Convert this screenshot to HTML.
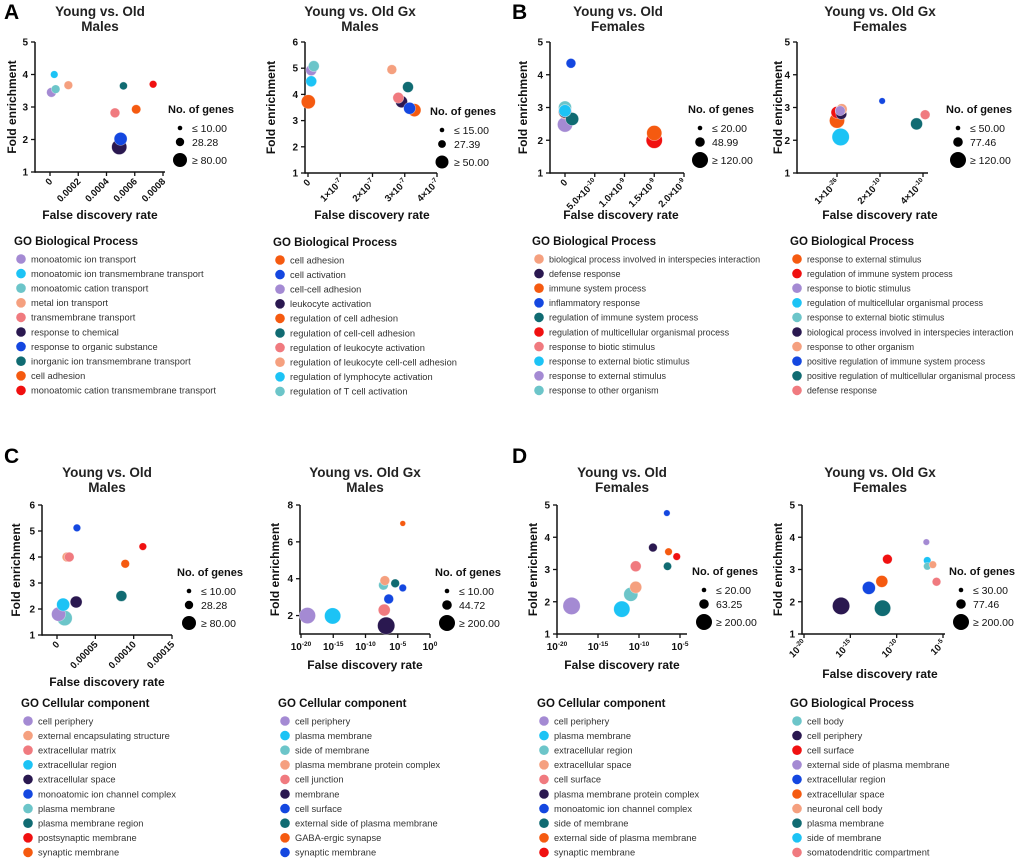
<!DOCTYPE html>
<html><head><meta charset="utf-8">
<style>
body{margin:0;background:#fff;}
svg{display:block;font-family:"Liberation Sans",Arial,sans-serif;}
.b{font-weight:bold;}
</style></head>
<body>
<svg id="fig" width="1020" height="866" viewBox="0 0 1020 866"></svg>
<script>
// ---- palette keys ----
const COL={pu:'#a48ad3',cy:'#1cc3f5',lt:'#6cc5c9',pe:'#f5a07f',pk:'#f07a7f',dk:'#2a1850',bl:'#1447e0',dt:'#106b72',or:'#f55a10',rd:'#f01010'};

// ---- Panel A1 data ----
const a1Fdr=[0.00001,0.00003,0.00004,0.00013,0.00046,0.00052,0.00073,0.00061,0.0005,0.00049];
const a1Fe=[3.45,4.0,3.55,3.67,2.82,3.65,3.7,2.93,2.02,1.77];
const a1Genes=[33,20,26,26,33,22,20,30,59,80];
const a1Cat=['pu','cy','lt','pe','pk','dt','rd','or','bl','dk'];
const a1Terms=['monoatomic ion transport','monoatomic ion transmembrane transport','monoatomic cation transport','metal ion transport','transmembrane transport','response to chemical','response to organic substance','inorganic ion transmembrane transport','cell adhesion','monoatomic cation transmembrane transport'];
const a1TermCol=['pu','cy','lt','pe','pk','dk','bl','dt','or','rd'];
const a1XTicks=[0,0.0002,0.0004,0.0006,0.0008];
const a1XLabels=['0','0.0002','0.0004','0.0006','0.0008'];
const a1Size=['≤  10.00','28.28','≥  80.00'];
// ---- Panel A2 ----
const a2Fdr=[0.01e-7,0.1e-7,0.1e-7,0.18e-7,2.6e-7,2.8e-7,2.9e-7,3.1e-7,3.15e-7,3.3e-7];
const a2Fe=[3.72,4.92,4.5,5.08,4.95,3.87,3.72,4.28,3.47,3.4];
const a2Genes=[50,30,30,30,24,30,36,30,36,43];
const a2Cat=['or','pu','cy','lt','pe','pk','dk','dt','bl','or'];
const a2Terms=['cell adhesion','cell activation','cell-cell adhesion','leukocyte activation','regulation of cell adhesion','regulation of cell-cell adhesion','regulation of leukocyte activation','regulation of leukocyte cell-cell adhesion','regulation of lymphocyte activation','regulation of T cell activation'];
const a2TermCol=['or','bl','pu','dk','or','dt','pk','pe','cy','lt'];
const a2XTicks=[0,1e-7,2e-7,3e-7,4e-7];
const a2XLabels=['0','1×10^-7','2×10^-7','3×10^-7','4×10^-7'];
const a2Size=['≤  15.00','27.39','≥  50.00'];
// ---- Panel B1 ----
const b1Fdr=[0,0,0,0,0,0,0.12e-9,0.1e-9,1.5e-9,1.5e-9];
const b1Fe=[2.9,2.9,3.0,2.85,2.88,2.48,2.65,4.35,2.22,2.0];
const b1Genes=[60,60,68,68,68,92,68,38,92,105];
const b1Cat=['pk','cy','lt','pe','dk','pu','dt','bl','or','rd'];
const b1Terms=['biological process involved in interspecies interaction','defense response','immune system process','inflammatory response','regulation of immune system process','regulation of multicellular organismal process','response to biotic stimulus','response to external biotic stimulus','response to external stimulus','response to other organism'];
const b1TermCol=['pe','dk','or','bl','dt','rd','pk','cy','pu','lt'];
const b1XTicks=[0,5e-10,1e-9,1.5e-9,2e-9];
const b1XLabels=['0','5.0×10^-10','1.0×10^-9','1.5×10^-9','2.0×10^-9'];
const b1Size=['≤  20.00','48.99','≥  120.00'];
// ---- Panel B2 ----
const b2Fdr=[0,0,0.17e-10,0.17e-10,0.2e-10,0.22e-10,2.1e-10,3.7e-10,4.1e-10,0.15e-10];
const b2Fe=[2.85,2.6,2.1,2.9,2.8,2.95,3.2,2.5,2.78,2.9];
const b2Genes=[57,92,120,47,47,47,17,57,38,40];
const b2Cat=['rd','or','cy','lt','dk','pe','bl','dt','pk','pu'];
const b2Terms=['response to external stimulus','regulation of immune system process','response to biotic stimulus','regulation of multicellular organismal process','response to external biotic stimulus','biological process involved in interspecies interaction','response to other organism','positive regulation of immune system process','positive regulation of multicellular organismal process','defense response'];
const b2TermCol=['or','rd','pu','cy','lt','dk','pe','bl','dt','pk'];
const b2XTicks=[0,2e-10,4e-10];
const b2XLabels=['1×10^-26','2×10^-10','4×10^-10'];
const b2Size=['≤  50.00','77.46','≥  120.00'];
// ---- Panel C1 ----
const c1Fdr=[0.000002,0.000008,0.00001,0.000013,0.000016,0.000025,0.000026,0.000084,0.000089,0.000112];
const c1Fe=[1.8,2.17,1.65,4.0,4.0,2.27,5.12,2.5,3.74,4.4];
const c1Genes=[69,59,80,33,33,49,20,41,26,20];
const c1Cat=['pu','cy','lt','pe','pk','dk','bl','dt','or','rd'];
const c1Terms=['cell periphery','external encapsulating structure','extracellular matrix','extracellular region','extracellular space','monoatomic ion channel complex','plasma membrane','plasma membrane region','postsynaptic membrane','synaptic membrane'];
const c1TermCol=['pu','pe','pk','cy','dk','bl','lt','dt','rd','or'];
const c1XTicks=[0,0.00005,0.0001,0.00015];
const c1XLabels=['0','0.00005','0.00010','0.00015'];
const c1Size=['≤  10.00','28.28','≥  80.00'];
// ---- Panel C2 (log x) ----
const c2Fdr=[1e-19,8e-16,6e-8,1e-7,4e-6,6e-5,4e-7,8e-8,1.6e-7,6e-5];
const c2Fe=[2.0,1.98,3.65,3.9,3.75,3.5,2.9,2.3,1.45,7.0];
const c2Genes=[176,176,63,63,50,38,63,95,200,22];
const c2Cat=['pu','cy','lt','pe','dt','bl','bl','pk','dk','or'];
const c2Terms=['cell periphery','plasma membrane','side of membrane','plasma membrane protein complex','cell junction','membrane','cell surface','external side of plasma membrane','GABA-ergic synapse','synaptic membrane'];
const c2TermCol=['pu','cy','lt','pe','pk','dk','bl','dt','or','bl'];
const c2XTicks=[1e-20,1e-15,1e-10,1e-5,1];
const c2XLabels=['10^-20','10^-15','10^-10','10^-5','10^0'];
const c2Size=['≤  10.00','44.72','≥  200.00'];
// ---- Panel D1 (log x) ----
const d1Fdr=[6e-19,8e-13,1e-11,4e-11,4e-11,5e-9,2.5e-7,4e-7,3e-7,4e-6];
const d1Fe=[1.87,1.77,2.23,2.45,3.1,3.68,4.75,3.55,3.1,3.4];
const d1Genes=[200,176,132,95,78,50,28,38,45,38];
const d1Cat=['pu','cy','lt','pe','pk','dk','bl','or','dt','rd'];
const d1Terms=['cell periphery','plasma membrane','extracellular region','extracellular space','cell surface','plasma membrane protein complex','monoatomic ion channel complex','side of membrane','external side of plasma membrane','synaptic membrane'];
const d1TermCol=['pu','cy','lt','pe','pk','dk','bl','dt','or','rd'];
const d1XTicks=[1e-20,1e-15,1e-10,1e-5];
const d1XLabels=['10^-20','10^-15','10^-10','10^-5'];
const d1Size=['≤  20.00','63.25','≥  200.00'];
// ---- Panel D2 (log x) ----
const d2Fdr=[1e-16,1e-13,3e-12,2.5e-12,1e-11,1.6e-7,2e-7,2e-7,8e-7,2e-6];
const d2Fe=[1.87,2.43,1.8,2.63,3.32,3.85,3.28,3.1,3.15,2.62];
const d2Genes=[200,113,176,95,63,28,38,38,38,50];
const d2Cat=['dk','bl','dt','or','rd','pu','cy','lt','pe','pk'];
const d2Terms=['cell body','cell periphery','cell surface','external side of plasma membrane','extracellular region','extracellular space','neuronal cell body','plasma membrane','side of membrane','somatodendritic compartment'];
const d2TermCol=['lt','dk','rd','pu','bl','or','pe','dt','cy','pk'];
const d2XTicks=[1e-20,1e-15,1e-10,1e-5];
const d2XLabels=['10^-20','10^-15','10^-10','10^-5'];
const d2Size=['≤  30.00','77.46','≥  200.00'];

const NS='http://www.w3.org/2000/svg';
const svg=document.getElementById('fig');
function mk(tag,attrs,parent){const e=document.createElementNS(NS,tag);for(const k in attrs)e.setAttribute(k,attrs[k]);(parent||svg).appendChild(e);return e;}
function txt(str,attrs,parent){
  const t=mk('text',attrs,parent);
  const parts=str.split('^');
  t.appendChild(document.createTextNode(parts[0]));
  if(parts[1]!==undefined){const s=mk('tspan',{dy:-4,'font-size':'6.5'},t);s.textContent=parts[1];}
  return t;
}

function panel(c){
  const g=mk('g',{});
  
  
  const fx=v=>{const t=c.log?Math.log10(v):v;return c.p1+(t-c.v1)*(c.p2-c.p1)/(c.v2-c.v1);};
  const fy=v=>c.yb-(v-c.ymin)*(c.yb-c.yt)/(c.ymax-c.ymin);
  const t1=txt(c.title[0],{x:c.tx,y:c.ty,'text-anchor':'middle','font-size':'13.5',class:'b',fill:'#222'},g);
  
  txt(c.title[1],{x:c.tx,y:c.ty+15,'text-anchor':'middle','font-size':'13.5',class:'b',fill:'#222'},g);
  const ax=mk('g',{},g);
  
  mk('line',{x1:c.ax,y1:c.yt,x2:c.ax,y2:c.yb+0.75,stroke:'#111','stroke-width':1.5},ax);
  mk('line',{x1:c.ax,y1:c.yb,x2:c.xe,y2:c.yb,stroke:'#111','stroke-width':1.5},ax);
  for(const yv of c.yticks){const y=fy(yv);
    mk('line',{x1:c.ax-4,y1:y,x2:c.ax,y2:y,stroke:'#111','stroke-width':1.3},ax);
    const t=txt(String(yv),{x:c.ax-7,y:y+3.5,'text-anchor':'end','font-size':'10',class:'b',fill:'#111'},ax);
    }
  c.xt.forEach((xv,i)=>{const x=fx(xv);
    mk('line',{x1:x,y1:c.yb,x2:x,y2:c.yb+4,stroke:'#111','stroke-width':1.3},ax);
    let t;
    if(c.rot) t=txt(c.xl[i],{x:x+3,y:c.yb+10,'text-anchor':'end','font-size':'9.5',class:'b',fill:'#111',transform:`rotate(-45 ${x+3} ${c.yb+10})`},ax);
    else t=txt(c.xl[i],{x:x,y:c.yb+16,'text-anchor':'middle','font-size':'10',class:'b',fill:'#111'},ax);
    
  });
  const yt=txt('Fold enrichment',{x:0,y:0,'text-anchor':'middle','font-size':'12',class:'b',fill:'#111',transform:`translate(${c.ytx},${(c.yt+c.yb)/2}) rotate(-90)`},g);
  
  const xt=txt('False discovery rate',{x:c.xtx,y:c.xty,'text-anchor':'middle','font-size':'12',class:'b',fill:'#111'},g);
  
  const rad=n=>1.08*c.rmax*Math.sqrt(Math.min(n,c.nmax)/c.nmax);
  const pts=c.fdr.map((v,i)=>i).sort((a,b)=>c.genes[b]-c.genes[a]);
  for(const i of pts){
    const p=mk('circle',{cx:fx(c.fdr[i]),cy:fy(c.fe[i]),r:rad(c.genes[i]),fill:COL[c.cat[i]],stroke:'rgba(255,255,255,0.5)','stroke-width':0.6},g);
    
    
  }
  const sl=mk('g',{},g);
  
  txt('No. of genes',{x:c.lx,y:c.ly+4,'font-size':'11',class:'b',fill:'#111'},sl);
  const sr=[2.3,c.rmax*0.6,c.rmax];
  const sy=[c.ly+19,c.ly+33,c.ly+51];
  for(let k=0;k<3;k++){
    mk('circle',{cx:c.lx+12,cy:sy[k],r:sr[k],fill:'#000'},sl);
    txt(c.size[k],{x:c.lx+24,y:sy[k]+4,'font-size':'10.5',fill:'#111'},sl);
  }
  const tl=mk('g',{},g);
  
  txt(c.head,{x:c.gx,y:c.gy+4,'font-size':'11.5',class:'b',fill:'#111'},tl);
  c.terms.forEach((s,i)=>{
    const y=c.gy+18+i*14.6;
    mk('circle',{cx:c.gx+7,cy:y,r:4.8,fill:COL[c.tcol[i]]},tl);
    const t=txt(s,{x:c.gx+17,y:y+3.3,'font-size':c.tfs||'9.3',fill:'#333'},tl);
    
  });
}

[['A',4,19],['B',512,19],['C',4,463],['D',512,463]].forEach(([l,x,y])=>{
  const t=txt(l,{x:x,y:y,'font-size':'21',class:'b',fill:'#000'});
  
});

const BP='GO Biological Process',CC='GO Cellular component';
panel({name:'panel-a-males',fdr:a1Fdr,fe:a1Fe,genes:a1Genes,cat:a1Cat,terms:a1Terms,tcol:a1TermCol,xt:a1XTicks,xl:a1XLabels,size:a1Size,
 v1:0,p1:50,v2:0.0008,p2:163,ax:35,xe:165,yt:42,yb:172,ymin:1,ymax:5,yticks:[1,2,3,4,5],rot:true,
 title:['Young vs. Old','Males'],tx:100,ty:16,ytx:16,xtx:100,xty:219,lx:168,ly:109,rmax:7,nmax:80,head:BP,gx:14,gy:241});
panel({name:'panel-a-males-gx',fdr:a2Fdr,fe:a2Fe,genes:a2Genes,cat:a2Cat,terms:a2Terms,tcol:a2TermCol,xt:a2XTicks,xl:a2XLabels,size:a2Size,
 v1:0,p1:308,v2:4e-7,p2:437,ax:305,xe:437,yt:42,yb:173,ymin:1,ymax:6,yticks:[1,2,3,4,5,6],rot:true,
 title:['Young vs. Old Gx','Males'],tx:360,ty:16,ytx:275,xtx:372,xty:219,lx:430,ly:111,rmax:6.5,nmax:50,head:BP,gx:273,gy:242});
panel({name:'panel-b-females',fdr:b1Fdr,fe:b1Fe,genes:b1Genes,cat:b1Cat,terms:b1Terms,tcol:b1TermCol,xt:b1XTicks,xl:b1XLabels,size:b1Size,
 v1:0,p1:565,v2:2e-9,p2:684,ax:550,xe:684,yt:42,yb:173,ymin:1,ymax:5,yticks:[1,2,3,4,5],rot:true,
 title:['Young vs. Old','Females'],tx:618,ty:16,ytx:527,xtx:621,xty:219,lx:688,ly:109,rmax:8,nmax:120,head:BP,gx:532,gy:241,tfs:'9'});
panel({name:'panel-b-females-gx',fdr:b2Fdr,fe:b2Fe,genes:b2Genes,cat:b2Cat,terms:b2Terms,tcol:b2TermCol,xt:b2XTicks,xl:b2XLabels,size:b2Size,
 v1:0,p1:837,v2:4e-10,p2:923,ax:797,xe:928,yt:42,yb:173,ymin:1,ymax:5,yticks:[1,2,3,4,5],rot:true,
 title:['Young vs. Old Gx','Females'],tx:880,ty:16,ytx:782,xtx:880,xty:219,lx:946,ly:109,rmax:8,nmax:120,head:BP,gx:790,gy:241,tfs:'8.8'});
panel({name:'panel-c-males',fdr:c1Fdr,fe:c1Fe,genes:c1Genes,cat:c1Cat,terms:c1Terms,tcol:c1TermCol,xt:c1XTicks,xl:c1XLabels,size:c1Size,
 v1:0,p1:57,v2:0.00015,p2:172,ax:42,xe:172,yt:505,yb:635,ymin:1,ymax:6,yticks:[1,2,3,4,5,6],rot:true,
 title:['Young vs. Old','Males'],tx:107,ty:477,ytx:20,xtx:107,xty:686,lx:177,ly:572,rmax:7,nmax:80,head:CC,gx:21,gy:703});
panel({name:'panel-c-males-gx',fdr:c2Fdr,fe:c2Fe,genes:c2Genes,cat:c2Cat,terms:c2Terms,tcol:c2TermCol,xt:c2XTicks,xl:c2XLabels,size:c2Size,log:true,
 v1:-20,p1:301,v2:0,p2:430,ax:300,xe:430,yt:505,yb:634,ymin:1,ymax:8,yticks:[2,4,6,8],rot:false,
 title:['Young vs. Old Gx','Males'],tx:365,ty:477,ytx:279,xtx:365,xty:669,lx:435,ly:572,rmax:8,nmax:200,head:CC,gx:278,gy:703});
panel({name:'panel-d-females',fdr:d1Fdr,fe:d1Fe,genes:d1Genes,cat:d1Cat,terms:d1Terms,tcol:d1TermCol,xt:d1XTicks,xl:d1XLabels,size:d1Size,log:true,
 v1:-20,p1:557,v2:-5,p2:680,ax:557,xe:687,yt:505,yb:634,ymin:1,ymax:5,yticks:[1,2,3,4,5],rot:false,
 title:['Young vs. Old','Females'],tx:622,ty:477,ytx:537,xtx:622,xty:669,lx:692,ly:571,rmax:8,nmax:200,head:CC,gx:537,gy:703});
panel({name:'panel-d-females-gx',fdr:d2Fdr,fe:d2Fe,genes:d2Genes,cat:d2Cat,terms:d2Terms,tcol:d2TermCol,xt:d2XTicks,xl:d2XLabels,size:d2Size,log:true,
 v1:-20,p1:804,v2:-5,p2:943,ax:802,xe:945,yt:505,yb:634,ymin:1,ymax:5,yticks:[1,2,3,4,5],rot:true,
 title:['Young vs. Old Gx','Females'],tx:880,ty:477,ytx:782,xtx:880,xty:678,lx:949,ly:571,rmax:8,nmax:200,head:BP,gx:790,gy:703});
</script>
</body></html>
